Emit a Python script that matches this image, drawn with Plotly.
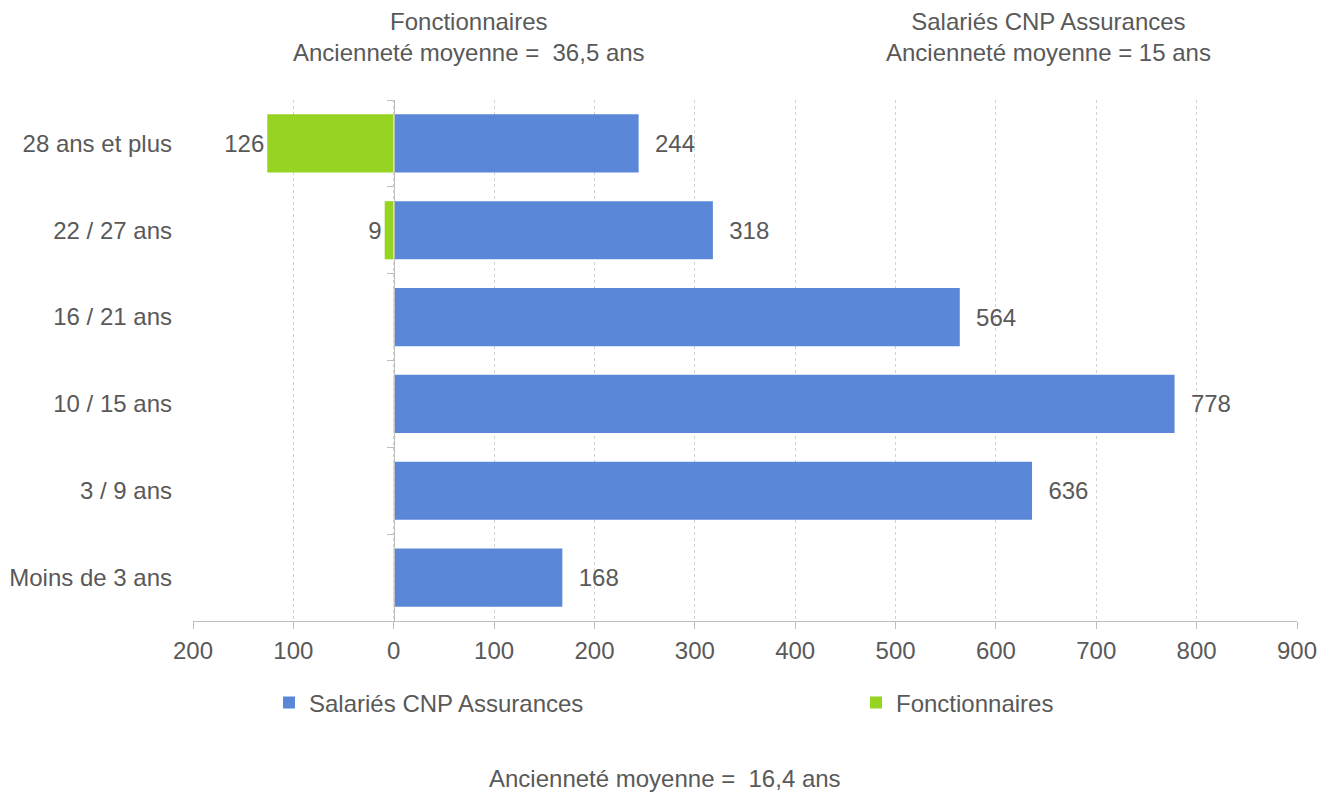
import plotly.graph_objects as go

categories = ["Moins de 3 ans", "3 / 9 ans", "10 / 15 ans", "16 / 21 ans", "22 / 27 ans", "28 ans et plus"]
salaries = [168, 636, 778, 564, 318, 244]
fonctionnaires = [None, None, None, None, 9, 126]
tick_vals = [-200, -100, 0, 100, 200, 300, 400, 500, 600, 700, 800, 900]
tick_text = [str(abs(v)) for v in tick_vals]

FONT = "Liberation Sans, Arial, sans-serif"
FS = 24
GRAY = "#595959"
BLUE = "#5A87D8"
GREEN = "#97D321"
NB = "\u00a0"

fig = go.Figure()
fig.add_trace(go.Bar(
    y=categories, x=salaries, orientation="h", name="Salariés CNP Assurances",
    marker=dict(color=BLUE, line=dict(width=0)),
    text=[NB * 2 + str(v) for v in salaries], textposition="outside",
    textfont=dict(size=FS, color=GRAY, family=FONT), cliponaxis=False,
    legend="legend",
))
fig.add_trace(go.Bar(
    y=categories, x=[(-v if v is not None else None) for v in fonctionnaires], orientation="h",
    name="Fonctionnaires",
    marker=dict(color=GREEN, line=dict(width=0)),
    text=[(str(v) if v is not None else "") for v in fonctionnaires], textposition="outside",
    textfont=dict(size=FS, color=GRAY, family=FONT), cliponaxis=False,
    legend="legend2",
))
# invisible helper trace for the zero-axis with boundary ticks
fig.add_trace(go.Bar(
    y=categories, x=[0] * len(categories), orientation="h", yaxis="y2",
    showlegend=False, hoverinfo="skip", marker=dict(color="rgba(0,0,0,0)"),
))

PW = 1104.0
PH = 521.0
legend_common = dict(
    orientation="h", yanchor="middle", y=-82 / PH, xanchor="left",
    font=dict(size=FS, color=GRAY, family=FONT), itemwidth=30, indentation=-10,
    bgcolor="rgba(0,0,0,0)", borderwidth=0,
)

fig.update_layout(
    width=1317, height=786,
    margin=dict(l=185, r=28, t=92, b=173, autoexpand=False),
    paper_bgcolor="white", plot_bgcolor="white",
    barmode="relative", bargap=0.33,
    font=dict(family=FONT, size=FS, color=GRAY),
    xaxis=dict(
        range=[-200, 900], tickvals=tick_vals, ticktext=tick_text,
        showgrid=True, gridcolor="#d2d2d2", griddash="dot", gridwidth=1,
        zeroline=False, showline=True, linecolor="#bfbfbf", linewidth=1,
        ticks="outside", ticklen=7, tickcolor="#bfbfbf", ticklabelstandoff=1,
        tickfont=dict(size=FS, color=GRAY), fixedrange=True, automargin=False,
    ),
    yaxis=dict(
        categoryorder="array", categoryarray=categories,
        showline=False, ticks="", showgrid=False, zeroline=False,
        tickfont=dict(size=FS, color=GRAY), ticklabelstandoff=20, automargin=False,
    ),
    yaxis2=dict(
        overlaying="y", anchor="free", position=201 / PW,
        categoryorder="array", categoryarray=categories,
        showline=True, linecolor="#bfbfbf", linewidth=1,
        ticks="outside", tickson="boundaries", ticklen=7, tickcolor="#bfbfbf",
        showticklabels=False, showgrid=False, zeroline=False, automargin=False,
    ),
    legend=dict(x=(279 - 193) / PW, **legend_common),
    legend2=dict(x=(866 - 193) / PW, **legend_common),
    annotations=[
        dict(text="Fonctionnaires<br>Ancienneté moyenne =" + NB + " 36,5 ans", xref="paper", yref="paper",
             x=(469 - 193) / PW, y=1.0, yshift=63, xanchor="center", yanchor="middle",
             showarrow=False, font=dict(size=FS, color=GRAY), borderpad=0),
        dict(text="Salariés CNP Assurances<br>Ancienneté moyenne = 15 ans", xref="paper", yref="paper",
             x=(1048 - 193) / PW, y=1.0, yshift=63, xanchor="center", yanchor="middle",
             showarrow=False, font=dict(size=FS, color=GRAY), borderpad=0),
        dict(text="Ancienneté moyenne =" + NB + " 16,4 ans", xref="paper", yref="paper",
             x=(665 - 193) / PW, y=0, yshift=-157, xanchor="center", yanchor="middle",
             showarrow=False, font=dict(size=FS, color=GRAY)),
    ],
)

fig.write_html("out.html")
